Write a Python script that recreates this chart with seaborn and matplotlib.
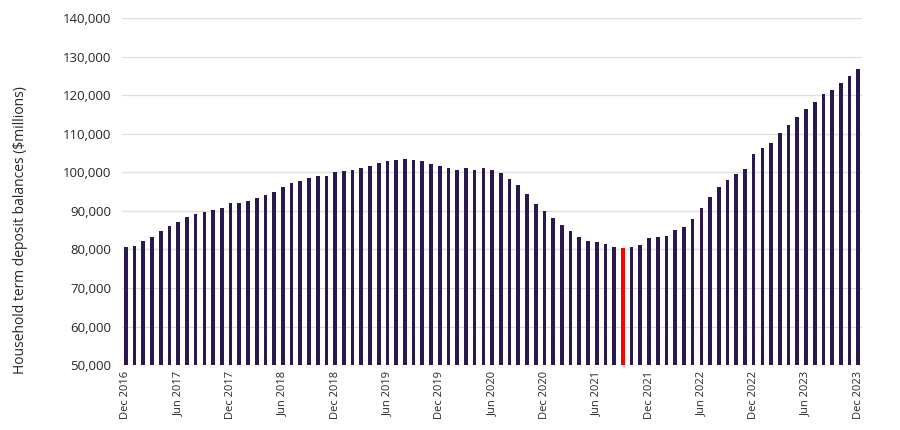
import pandas as pd
import matplotlib.pyplot as plt
import matplotlib.ticker as mticker
import seaborn as sns

# monthly household term deposit balances ($m), Dec 2016 - Dec 2023
months = pd.date_range('2016-12-01', '2023-12-01', freq='MS').strftime('%b %Y').tolist()
balances = [
    80500, 81000, 82200, 83200, 84900, 86100, 87200, 88350, 89300, 89800, 90150, 90850,
    92150, 92150, 92650, 93450, 94200, 94900, 96100, 97100, 97850, 98500, 98950, 99150,
    100100, 100350, 100700, 101000, 101550, 102500, 102850, 103200, 103550, 103200, 102850, 102150,
    101700, 101050, 100600, 101050, 100700, 101200, 100700, 99750, 98250, 96650, 94400, 91900,
    90050, 88100, 86250, 84650, 83150, 82050, 81850, 81500, 80650, 80400, 80650, 81200,
    83000, 83150, 83500, 85150, 85900, 87900, 90850, 93500, 96100, 97900, 99550, 100950,
    104650, 106300, 107700, 110100, 112250, 114350, 116500, 118300, 120300, 121250, 123050, 124900,
    126700,
]
highlight = 'Sep 2021'
y_ticks = list(range(50000, 140001, 10000))

df = pd.DataFrame({'month': months, 'balance': balances})
colors = ['#ff0000' if m == highlight else '#2b1850' for m in months]

sns.set_style('white')
plt.rcParams['font.family'] = ['Open Sans', 'DejaVu Sans']

fig, ax = plt.subplots(figsize=(9, 4.3), dpi=100)
fig.subplots_adjust(left=0.136, right=0.958, top=0.958, bottom=0.151)

sns.barplot(data=df, x='month', y='balance', hue='month', palette=colors,
            width=0.42, legend=False, ax=ax, linewidth=0, saturation=1)

ax.set_ylim(50000, 140000)
ax.set_yticks(y_ticks)
ax.yaxis.set_major_formatter(mticker.FuncFormatter(lambda v, _: f'{v:,.0f}'))
ax.set_xlim(-0.4, len(months) - 1 + 0.45)

# label every six months
pos = list(range(0, len(months), 6))
ax.set_xticks(pos)
ax.set_xticklabels([months[i] for i in pos], rotation=90, fontsize=8)
ax.tick_params(axis='y', labelsize=9.5, length=0, pad=8)
ax.tick_params(axis='x', length=0, pad=4)

ax.grid(axis='y', color='#dedede', linewidth=0.9)
ax.set_axisbelow(True)
for s in ax.spines.values():
    s.set_visible(False)

ax.set_xlabel('')
ax.set_ylabel('Household term deposit balances ($millions)', fontsize=10)
ax.yaxis.set_label_coords(-0.127, 0.39)

plt.savefig('out.png', dpi=100)
plt.close()
